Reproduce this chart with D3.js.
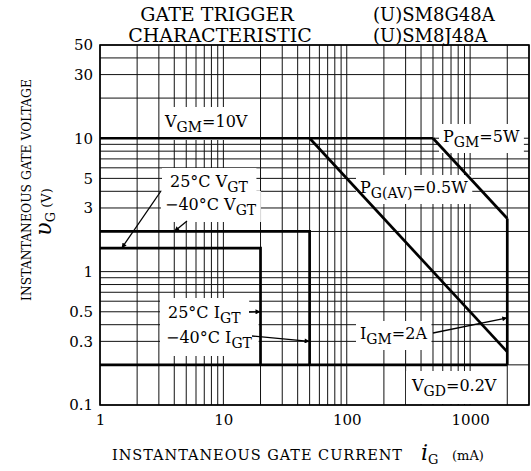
<!DOCTYPE html>
<html>
<head>
<meta charset="utf-8">
<script src="https://cdn.jsdelivr.net/npm/d3@7"></script>
<style>
  body { margin: 0; background: #fff; }
  svg { display: block; font-family: "DejaVu Serif", serif; }
</style>
</head>
<body>
<div id="main"></div>
<script>
// tick labels
const xTicks = [1, 10, 100, 1000];
const yTicks = [0.1, 0.3, 0.5, 1, 3, 5, 10, 30, 50];

// rating lines (i in mA, v in V)
const vgmLine = [[1, 10], [500, 10]];          // VGM = 10V
const pgmLine = [[500, 10], [2000, 2.5]];      // PGM = 5W
const igmLine = [[2000, 2.5], [2000, 0.2]];    // IGM = 2A
const pgavLine = [[50, 10], [2000, 0.25]];     // PG(AV) = 0.5W
const vgdLine = [[1, 0.2], [2000, 0.2]];       // VGD = 0.2V
const vgt25Line = [[1, 1.5], [20, 1.5], [20, 0.2]];  // 25C VGT / IGT
const vgt40Line = [[1, 2], [50, 2], [50, 0.2]];      // -40C VGT / IGT

// arrow targets on the lines
const arrowTargets = [[1.5, 1.5], [4, 2], [20, 0.5], [50, 0.3], [2000, 0.45]];

const ctx = {
    width: 531,
    height: 471,
    left: 100, right: 529, top: 45, bottom: 405
};

const svg = d3.select("#main").append("svg")
    .attr("width", ctx.width)
    .attr("height", ctx.height);

const x = d3.scaleLog().domain([1, 3000]).range([ctx.left, ctx.right]);
const y = d3.scaleLog().domain([0.1, 50]).range([ctx.bottom, ctx.top]);

// grid values 1..9 per decade
const xGrid = [], yGrid = [];
[1, 10, 100, 1000].forEach(d => { for (let m = 1; m <= 9; m++) if (d * m <= 3000) xGrid.push(d * m); });
[0.1, 1, 10].forEach(d => { for (let m = 1; m <= 9; m++) if (d * m <= 50) yGrid.push(d * m); });

const gridG = svg.append("g");
gridG.selectAll("line.v").data(xGrid).enter().append("line")
    .attr("x1", d => x(d)).attr("x2", d => x(d))
    .attr("y1", ctx.top).attr("y2", ctx.bottom)
    .attr("stroke", "#111").attr("stroke-width", 1);
gridG.selectAll("line.h").data(yGrid).enter().append("line")
    .attr("y1", d => y(d)).attr("y2", d => y(d))
    .attr("x1", ctx.left).attr("x2", ctx.right)
    .attr("stroke", "#111").attr("stroke-width", 1);

const maskG = svg.append("g");   // white boxes behind labels
const lineG = svg.append("g");
const textG = svg.append("g");

// frame
lineG.append("rect")
    .attr("x", ctx.left).attr("y", ctx.top)
    .attr("width", ctx.right - ctx.left).attr("height", ctx.bottom - ctx.top)
    .attr("fill", "none").attr("stroke", "#000").attr("stroke-width", 1.6);

const line = d3.line().x(d => x(d[0])).y(d => y(d[1]));
[vgmLine, pgmLine, igmLine, pgavLine, vgdLine, vgt25Line, vgt40Line].forEach(pts => {
    lineG.append("path")
        .attr("d", line(pts))
        .attr("fill", "none")
        .attr("stroke", "#000")
        .attr("stroke-width", 2.7)
        .attr("stroke-linejoin", "miter");
});

// axes
const xAxis = svg.append("g")
    .attr("transform", `translate(0,${ctx.bottom})`)
    .call(d3.axisBottom(x).tickValues(xTicks).tickSize(0).tickPadding(9).tickFormat(d3.format("")));
const yAxis = svg.append("g")
    .attr("transform", `translate(${ctx.left},0)`)
    .call(d3.axisLeft(y).tickValues(yTicks).tickSize(0).tickPadding(7).tickFormat(d => d + ""));
[xAxis, yAxis].forEach(a => {
    a.select(".domain").remove();
    a.selectAll("text")
        .attr("font-family", "DejaVu Serif")
        .attr("font-size", "15px")
        .attr("fill", "#000");
});

// label with subscripts, white box behind it
function label(px, py, parts, pad) {
    const t = textG.append("text")
        .attr("x", px).attr("y", py)
        .attr("font-size", "16px")
        .attr("fill", "#000");
    let shifted = false;
    parts.forEach(p => {
        const s = t.append("tspan").text(p[0]);
        if (p[1] && !shifted) { s.attr("dy", 5).attr("font-size", "14px"); shifted = true; }
        else if (!p[1] && shifted) { s.attr("dy", -5); shifted = false; }
        else if (p[1]) s.attr("font-size", "14px");
    });
    const bb = t.node().getBBox();
    pad = pad || [4, 3];
    maskG.append("rect")
        .attr("x", bb.x - pad[0]).attr("y", bb.y - pad[1])
        .attr("width", bb.width + 2 * pad[0]).attr("height", bb.height + 2 * pad[1])
        .attr("fill", "#fff");
    return t;
}

label(165, 127, [["V"], ["GM", 1], ["=10V"]], [4, 5]);
label(443, 142, [["P"], ["GM", 1], ["=5W"]]);
label(360, 193, [["P"], ["G(AV)", 1], ["=0.5W"]]);
label(170, 187, [["25°C V"], ["GT", 1]], [8, 4]);
label(165, 210, [["\u221240°C V"], ["GT", 1]], [4, 4]);
label(168, 318, [["25°C I"], ["GT", 1]], [8, 5]);
label(166, 343, [["\u221240°C I"], ["GT", 1]], [6, 5]);
label(360, 339, [["I"], ["GM", 1], ["=2A"]]);
label(412, 391, [["V"], ["GD", 1], ["=0.2V"]], [5, 5]);

// arrows
svg.append("defs").append("marker")
    .attr("id", "ah")
    .attr("viewBox", "0 0 10 10")
    .attr("refX", 10).attr("refY", 5)
    .attr("markerWidth", 10).attr("markerHeight", 5)
    .attr("markerUnits", "userSpaceOnUse")
    .attr("orient", "auto")
    .append("path").attr("d", "M0,0L10,5L0,10Z").attr("fill", "#000");

const arrowStarts = [[161, 191], [187, 221], [249, 312], [252, 336], [433, 333]];
arrowStarts.forEach((s, i) => {
    const tg = arrowTargets[i];
    lineG.append("line")
        .attr("x1", s[0]).attr("y1", s[1])
        .attr("x2", x(tg[0])).attr("y2", y(tg[1]))
        .attr("stroke", "#000").attr("stroke-width", 1.3)
        .attr("marker-end", "url(#ah)");
});

// titles
textG.append("text").attr("x", 217).attr("y", 21).attr("text-anchor", "middle")
    .attr("font-size", "19px").text("GATE TRIGGER");
textG.append("text").attr("x", 220).attr("y", 42).attr("text-anchor", "middle")
    .attr("font-size", "19px").text("CHARACTERISTIC");
textG.append("text").attr("x", 373).attr("y", 21)
    .attr("font-size", "18px").text("(U)SM8G48A");
textG.append("text").attr("x", 373).attr("y", 42)
    .attr("font-size", "18px").text("(U)SM8J48A");

// x axis title
const xt = textG.append("text").attr("x", 112).attr("y", 460).attr("font-size", "14.5px");
xt.append("tspan").attr("textLength", 290).text("INSTANTANEOUS GATE CURRENT");
xt.append("tspan").attr("x", 421).attr("font-size", "22px").attr("font-style", "italic").text("i");
xt.append("tspan").attr("font-size", "13px").attr("dy", 4).text("G");
xt.append("tspan").attr("x", 452).attr("dy", -4).attr("font-size", "13px").text("(mA)");

// y axis title
textG.append("text")
    .attr("transform", "translate(31,190) rotate(-90)")
    .attr("text-anchor", "middle")
    .attr("font-size", "12.5px")
    .attr("textLength", 222)
    .attr("lengthAdjust", "spacingAndGlyphs")
    .text("INSTANTANEOUS GATE VOLTAGE");
const yt = textG.append("text")
    .attr("transform", "translate(51,212) rotate(-90)")
    .attr("text-anchor", "middle")
    .attr("font-size", "13px");
yt.append("tspan").attr("font-size", "22px").attr("font-style", "italic").text("\u03c5");
yt.append("tspan").attr("dy", 4).text("G");
yt.append("tspan").attr("dy", -4).text("  (V)");
</script>
</body>
</html>
